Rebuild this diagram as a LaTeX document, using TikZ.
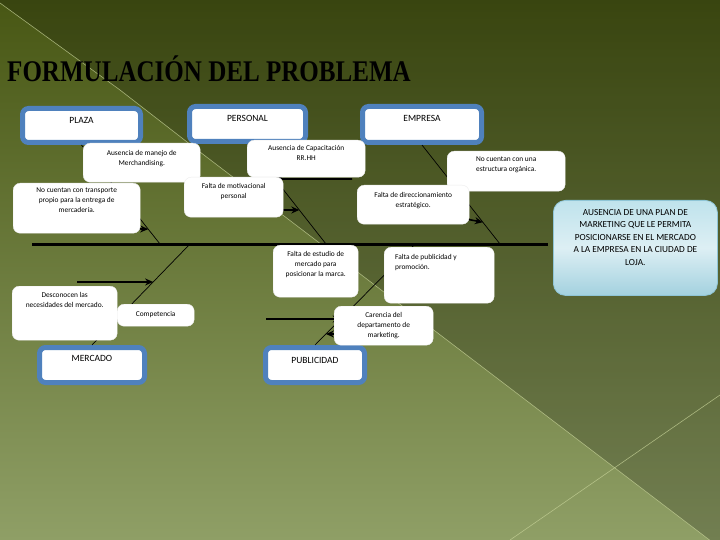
\documentclass[tikz,border=0pt]{standalone}
\usepackage{fontspec}
\setmainfont{Carlito}
\newfontfamily\titlefont{Liberation Serif}
\usetikzlibrary{arrows.meta,calc}
\definecolor{bgtop}{HTML}{485714}
\definecolor{bgmid}{HTML}{62752A}
\definecolor{bgbot}{HTML}{8F9F66}
\definecolor{bgline}{HTML}{C4D096}
\definecolor{boxblue}{HTML}{4F81BD}
\definecolor{effA}{HTML}{BFE3EC}
\definecolor{effB}{HTML}{A3D1DF}
\definecolor{effC}{HTML}{DDEFF4}
\definecolor{effD}{HTML}{8FC5D6}
\begin{document}
\begin{tikzpicture}[x=1pt,y=-1pt,
  catbox/.style={draw=boxblue, line width=5pt, fill=white, rounded corners=6pt, inner sep=0pt},
  cattxt/.style={inner sep=0pt, font=\fontsize{9.5}{10}\selectfont},
  causebox/.style={draw=gray!15, line width=0.4pt, fill=white, rounded corners=7pt, inner sep=0pt, anchor=north west},
  causetxt/.style={inner sep=0pt, anchor=north, align=center, font=\fontsize{7.4}{10}\selectfont},
  bone/.style={draw=black, line width=0.7pt},
  spine/.style={draw=black, line width=3pt},
  subarrow/.style={draw=black, line width=1.6pt, -{Stealth[length=8pt,width=7pt]}},
  bgstroke/.style={draw=bgline, line width=0.6pt, opacity=0.75},
  effect/.style={top color=effA, bottom color=effB, middle color=effC, draw=effD, line width=0.8pt, rounded corners=12pt, inner sep=0pt, anchor=north west},
  efftxt/.style={inner sep=0pt, anchor=north, align=center, font=\fontsize{9.3}{12.5}\selectfont}
]
\useasboundingbox (0,0) rectangle (720,540);
% background
\shade[top color=bgtop, middle color=bgmid, bottom color=bgbot] (0,0) rectangle (720,540);
\fill[black, opacity=0.2] (0,3) -- (120,90) -- (200,152) -- (720,548) -- (720,0) -- (0,0) -- cycle;
\draw[bgstroke] (0,3) -- (120,90) -- (200,152) -- (720,548);
\draw[bgstroke] (510,540) -- (720,395);

% title
\node[anchor=base west, inner sep=0pt] (title) at (7,82)
  {\scalebox{0.835}[1]{\titlefont\bfseries\fontsize{30}{30}\selectfont FORMULACIÓN DEL PROBLEMA}};

% category boxes
\node[catbox, minimum width=118pt, minimum height=34pt] (plaza) at (81.5,125.5) {};
\node[catbox, minimum width=116pt, minimum height=35pt] (personal) at (247.5,124) {};
\node[catbox, minimum width=119pt, minimum height=36pt] (empresa) at (422,124.5) {};
\node[catbox, minimum width=105pt, minimum height=35pt] (mercado) at (92,365) {};
\node[catbox, minimum width=99pt, minimum height=35pt] (publicidad) at (315,365) {};

% spine points
\coordinate (sp0) at (32,244);
\coordinate (sp1) at (548,244);
\coordinate (s1) at (160,244);
\coordinate (s2) at (326,244);
\coordinate (s3) at (500,244);
\coordinate (s4) at (190,244);
\coordinate (s5) at (415,244);

% bones
\draw[bone] (plaza.south) -- (s1);
\draw[bone] (personal.south) -- (s2);
\draw[bone] (empresa.south) -- (s3);
\draw[bone] (mercado.north) -- (s4);
\draw[bone] (publicidad.north) -- (s5);
\draw[spine] (sp0) -- (sp1);

% sub-branch arrows
\coordinate (a1) at (105,228);
\coordinate (a2) at (250,210);
\coordinate (a3) at (440,214);
\coordinate (a4) at (77,282);
\coordinate (a5) at (266,319);
\coordinate (a6) at (380,334);
\coordinate (a7) at (352,179);
\draw[subarrow] (a1) -- ($(plaza.south)!0.85!(s1)$);
\draw[subarrow] (a2) -- ($(personal.south)!0.66!(s2)$);
\draw[subarrow] (a3) -- ($(empresa.south)!0.78!(s3)$);
\draw[subarrow] (a4) -- ($(mercado.north)!0.624!(s4)$);
\draw[subarrow] (a5) -- ($(publicidad.north)!0.257!(s5)$);
\draw[subarrow] (a6) -- ($(publicidad.north)!0.109!(s5)$);
\draw[subarrow] (a7) -- ($(personal.south)!0.35!(s2)$);

% category labels
\node[cattxt] (plazat) at ([yshift=5.5pt]plaza.center) {PLAZA};
\node[cattxt] (personalt) at ([yshift=6pt]personal.center) {PERSONAL};
\node[cattxt] (empresat) at ([yshift=6.5pt]empresa.center) {EMPRESA};
\node[cattxt] (mercadot) at ([yshift=7pt]mercado.center) {MERCADO};
\node[cattxt] (publicidadt) at ([yshift=5pt]publicidad.center) {PUBLICIDAD};

% cause boxes
\node[causebox, minimum width=117pt, minimum height=39pt] (c1) at (83,143) {};
\node[causebox, minimum width=118pt, minimum height=37pt] (c2) at (247,140) {};
\node[causebox, minimum width=127pt, minimum height=50pt] (c3) at (13,183) {};
\node[causebox, minimum width=99pt, minimum height=40pt] (c4) at (184,177) {};
\node[causebox, minimum width=118pt, minimum height=40pt] (c5) at (447,151) {};
\node[causebox, minimum width=112pt, minimum height=39pt] (c6) at (357,185) {};
\node[causebox, minimum width=85pt, minimum height=52pt] (c7) at (273,245) {};
\node[causebox, minimum width=110pt, minimum height=56pt] (c8) at (384,247) {};
\node[causebox, minimum width=105pt, minimum height=54pt] (c9) at (12,286) {};
\node[causebox, minimum width=77pt, minimum height=22pt] (c10) at (117,304) {};
\node[causebox, minimum width=99pt, minimum height=39pt] (c11) at (334,306) {};

\node[causetxt] (c1t) at ([yshift=-7pt]c1.north) {Ausencia de manejo de\\Merchandising.};
\node[causetxt] (c2t) at ([yshift=-5pt]c2.north) {Ausencia de Capacitación\\RR.HH};
\node[causetxt] (c3t) at ([yshift=-5pt]c3.north) {No cuentan con transporte\\propio para la entrega de\\mercadería.};
\node[causetxt] (c4t) at ([yshift=-6pt]c4.north) {Falta de motivacional\\personal};
\node[causetxt] (c5t) at ([yshift=-6pt]c5.north) {No cuentan con una\\estructura orgánica.};
\node[causetxt] (c6t) at ([yshift=-7pt]c6.north) {Falta de direccionamiento\\estratégico.};
\node[causetxt] (c7t) at ([yshift=-6pt]c7.north) {Falta de estudio de\\mercado para\\posicionar la marca.};
\node[causetxt, anchor=north west, align=left] (c8t) at ([xshift=11pt,yshift=-7pt]c8.north west) {Falta de publicidad y\\promoción.};
\node[causetxt] (c9t) at ([yshift=-6pt]c9.north) {Desconocen las\\necesidades del mercado.};
\node[causetxt, anchor=center] (c10t) at ([yshift=1pt]c10.center) {Competencia};
\node[causetxt] (c11t) at ([yshift=-6pt]c11.north) {Carencia del\\departamento de\\marketing.};

% effect
\node[effect, minimum width=164pt, minimum height=95pt] (eff) at (553,200) {};
\node[efftxt] (efft) at ([yshift=-9pt]eff.north) {AUSENCIA DE UNA PLAN DE\\MARKETING QUE LE PERMITA\\POSICIONARSE EN EL MERCADO\\A LA EMPRESA EN LA CIUDAD DE\\LOJA.};
\end{tikzpicture}
\end{document}
